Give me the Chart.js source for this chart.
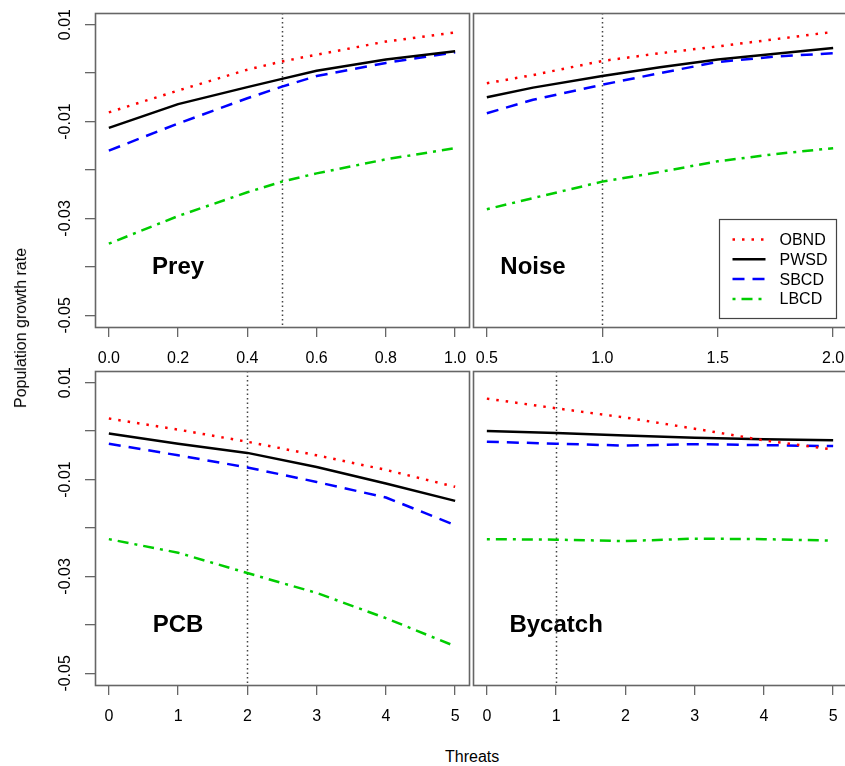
<!DOCTYPE html>
<html><head><meta charset="utf-8">
<script src="https://cdn.jsdelivr.net/npm/chart.js@4/dist/chart.umd.min.js"></script>
<style>
html,body{margin:0;padding:0;background:#fff;width:845px;height:766px;overflow:hidden;position:relative;font-family:"Liberation Sans",Arial,sans-serif;}
canvas{position:absolute;}
.ttl{position:absolute;font-size:16px;color:#000;white-space:nowrap;line-height:16px;}
</style></head><body>
<canvas id="c0" width="489" height="375" style="left:0px;top:0px"></canvas>
<canvas id="c1" width="405" height="375" style="left:462px;top:0px"></canvas>
<canvas id="c2" width="489" height="375" style="left:0px;top:358px"></canvas>
<canvas id="c3" width="405" height="375" style="left:462px;top:358px"></canvas>
<div class="ttl" id="ytitle">Population growth rate</div>
<div class="ttl" id="xtitle">Threats</div>
<script>
// ---------- data ----------
const seriesNames = ['OBND', 'PWSD', 'SBCD', 'LBCD'];
const panelNames = ['Prey', 'Noise', 'PCB', 'Bycatch'];

const preyX = [0, 0.2, 0.4, 0.5, 0.6, 0.8, 1.0];
const preyOBND = [-0.0081, -0.0036, 0.0007, 0.0024, 0.0038, 0.0065, 0.0084];
const preyPWSD = [-0.0113, -0.0064, -0.0029, -0.0012, 0.0005, 0.0028, 0.0045];
const preySBCD = [-0.0160, -0.0104, -0.0052, -0.0028, -0.0006, 0.0021, 0.0043];
const preyLBCD = [-0.0352, -0.0295, -0.0246, -0.0224, -0.0207, -0.0178, -0.0155];

const noiseX = [0.5, 0.7, 1.0, 1.25, 1.5, 1.75, 2.0];
const noiseOBND = [-0.0021, -0.0004, 0.0025, 0.0041, 0.0055, 0.0070, 0.0085];
const noisePWSD = [-0.0050, -0.0030, -0.0006, 0.0012, 0.0028, 0.0040, 0.0052];
const noiseSBCD = [-0.0083, -0.0055, -0.0024, 0.0000, 0.0023, 0.0034, 0.0041];
const noiseLBCD = [-0.0281, -0.0258, -0.0224, -0.0204, -0.0182, -0.0167, -0.0155];

const pcbX = [0, 1, 2, 3, 4, 5];
const pcbOBND = [0.0026, 0.0003, -0.0022, -0.0050, -0.0080, -0.0115];
const pcbPWSD = [-0.0005, -0.0026, -0.0045, -0.0074, -0.0108, -0.0144];
const pcbSBCD = [-0.0026, -0.0050, -0.0075, -0.0105, -0.0137, -0.0194];
const pcbLBCD = [-0.0223, -0.0251, -0.0293, -0.0334, -0.0386, -0.0444];

const bycatchX = [0, 1, 2, 3, 4, 5];
const bycatchOBND = [0.0067, 0.0047, 0.0028, 0.0005, -0.0019, -0.0038];
const bycatchPWSD = [0.0000, -0.0004, -0.0009, -0.0014, -0.0017, -0.0019];
const bycatchSBCD = [-0.0022, -0.0026, -0.0030, -0.0027, -0.0029, -0.0031];
const bycatchLBCD = [-0.0223, -0.0224, -0.0227, -0.0222, -0.0223, -0.0226];

const refLines = [0.5, 1.0, 2, 1];          // vertical dotted lines (current level)
const labelPosX = [0.2, 0.7, 1.0, 1.0];     // panel label positions (data units)
const labelPosY = [-0.04, -0.04, -0.04, -0.04];

const yTicks = [0.01, 0, -0.01, -0.02, -0.03, -0.04, -0.05];
const yTickLabels = ['0.01', '', '-0.01', '', '-0.03', '', '-0.05'];
const preyTicks = [0, 0.2, 0.4, 0.6, 0.8, 1.0];
const preyTickLabels = ['0.0', '0.2', '0.4', '0.6', '0.8', '1.0'];
const noiseTicks = [0.5, 1.0, 1.5, 2.0];
const noiseTickLabels = ['0.5', '1.0', '1.5', '2.0'];
const countTicks = [0, 1, 2, 3, 4, 5];
const countTickLabels = ['0', '1', '2', '3', '4', '5'];

// ---------- styles ----------
const FONT = '"Liberation Sans", Arial, sans-serif';
const seriesStyle = [
  {color: '#ff0000', dash: [2.5, 7]},
  {color: '#000000', dash: []},
  {color: '#0000ff', dash: [12, 8]},
  {color: '#00cd00', dash: [3, 6, 11, 6]}
];
const AXIS_COLOR = '#666666';

// panel geometry / config
const panels = [
  {id: 'c0', xs: preyX, ys: [preyOBND, preyPWSD, preySBCD, preyLBCD], xmin: -0.04, xmax: 1.04,
   ticks: preyTicks, tickLabels: preyTickLabels, showY: true, legend: false,
   pad: {left: 0, right: 20, top: 13, bottom: 0}},
  {id: 'c1', xs: noiseX, ys: [noiseOBND, noisePWSD, noiseSBCD, noiseLBCD], xmin: 0.44, xmax: 2.06,
   ticks: noiseTicks, tickLabels: noiseTickLabels, showY: false, legend: true,
   pad: {left: 11, right: 20, top: 13, bottom: 0}},
  {id: 'c2', xs: pcbX, ys: [pcbOBND, pcbPWSD, pcbSBCD, pcbLBCD], xmin: -0.2, xmax: 5.2,
   ticks: countTicks, tickLabels: countTickLabels, showY: true, legend: false,
   pad: {left: 0, right: 20, top: 13, bottom: 0}},
  {id: 'c3', xs: bycatchX, ys: [bycatchOBND, bycatchPWSD, bycatchSBCD, bycatchLBCD], xmin: -0.2, xmax: 5.2,
   ticks: countTicks, tickLabels: countTickLabels, showY: false, legend: false,
   pad: {left: 11, right: 20, top: 13, bottom: 0}}
];

function panelPlugin(idx, p) {
  return {
    id: 'panelDecor' + idx,
    beforeDatasetsDraw(chart) {
      const ctx = chart.ctx, a = chart.chartArea;
      const x = Math.round(chart.scales.x.getPixelForValue(refLines[idx])) + 0.5;
      ctx.save();
      ctx.strokeStyle = '#444444';
      ctx.lineWidth = 1.5;
      ctx.setLineDash([1.5, 3]);
      ctx.beginPath();
      ctx.moveTo(x, a.top);
      ctx.lineTo(x, a.bottom);
      ctx.stroke();
      ctx.restore();
    },
    afterDatasetsDraw(chart) {
      const ctx = chart.ctx, a = chart.chartArea;
      ctx.save();
      // box
      ctx.strokeStyle = AXIS_COLOR;
      ctx.lineWidth = 1.6;
      ctx.strokeRect(Math.round(a.left) + 0.5, Math.round(a.top) + 0.5,
                     Math.round(a.right - a.left), Math.round(a.bottom - a.top));
      // panel label
      ctx.fillStyle = '#000';
      ctx.font = 'bold 24px ' + FONT;
      ctx.textAlign = 'center';
      ctx.textBaseline = 'middle';
      ctx.fillText(panelNames[idx], chart.scales.x.getPixelForValue(labelPosX[idx]),
                   chart.scales.y.getPixelForValue(labelPosY[idx]));
      // legend
      if (p.legend) {
        const bw = 117, bh = 99;
        const bx = Math.round(a.right - 11.5 - bw) + 0.5;
        const by = Math.round(a.bottom - 9.5 - bh) + 0.5;
        ctx.strokeStyle = '#444';
        ctx.lineWidth = 1.2;
        ctx.setLineDash([]);
        ctx.strokeRect(bx, by, bw, bh);
        ctx.font = '16px ' + FONT;
        ctx.textAlign = 'left';
        chart.data.datasets.forEach((ds, i) => {
          const yy = by + 20 + i * 19.8;
          ctx.strokeStyle = ds.borderColor;
          ctx.lineWidth = ds.borderWidth;
          ctx.setLineDash(ds.borderDash);
          ctx.beginPath();
          ctx.moveTo(bx + 13, yy);
          ctx.lineTo(bx + 46, yy);
          ctx.stroke();
          ctx.fillStyle = '#000';
          ctx.fillText(ds.label, bx + 60, yy + 1);
        });
      }
      ctx.restore();
    }
  };
}

panels.forEach((p, idx) => {
  const datasets = seriesNames.map((name, si) => ({
    label: name,
    data: p.xs.map((x, i) => ({x: x, y: p.ys[si][i]})),
    borderColor: seriesStyle[si].color,
    borderDash: seriesStyle[si].dash,
    borderWidth: 2.5,
    borderCapStyle: 'butt',
    borderJoinStyle: 'round',
    pointRadius: 0,
    tension: 0,
    fill: false
  }));
  new Chart(document.getElementById(p.id), {
    type: 'line',
    data: {datasets},
    options: {
      responsive: false,
      animation: false,
      devicePixelRatio: 1,
      layout: {padding: p.pad},
      plugins: {legend: {display: false}, tooltip: {enabled: false}, title: {display: false}},
      scales: {
        x: {
          type: 'linear', min: p.xmin, max: p.xmax, bounds: 'data',
          afterBuildTicks: s => { s.ticks = p.ticks.map(v => ({value: v})); },
          afterFit: s => { s.height = 48; },
          grid: {drawOnChartArea: false, drawTicks: true, tickLength: 10, color: AXIS_COLOR, lineWidth: 1.3},
          border: {display: false},
          ticks: {
            autoSkip: false, maxRotation: 0, minRotation: 0, padding: 12,
            color: '#000', font: {family: FONT, size: 16},
            callback: (v, i) => p.tickLabels[i]
          }
        },
        y: {
          type: 'linear', min: -0.0524, max: 0.0124, bounds: 'data',
          display: p.showY,
          afterBuildTicks: s => { s.ticks = yTicks.map(v => ({value: v})); },
          afterFit: s => { s.width = p.showY ? 95 : 0; },
          grid: {drawOnChartArea: false, drawTicks: true, tickLength: 10, color: AXIS_COLOR, lineWidth: 1.3},
          border: {display: false},
          ticks: {
            autoSkip: false, minRotation: 90, maxRotation: 90, padding: 1, crossAlign: 'center',
            color: '#000', font: {family: FONT, size: 16},
            callback: (v, i) => yTickLabels[i]
          }
        }
      }
    },
    plugins: [panelPlugin(idx, p)]
  });
});

// axis titles
const yt = document.getElementById('ytitle');
yt.style.left = (21 - yt.offsetWidth / 2) + 'px';
yt.style.top = (328 - 8) + 'px';
yt.style.transform = 'rotate(-90deg)';
const xt = document.getElementById('xtitle');
xt.style.left = (472 - xt.offsetWidth / 2) + 'px';
xt.style.top = (757 - 8) + 'px';
</script>
</body></html>
